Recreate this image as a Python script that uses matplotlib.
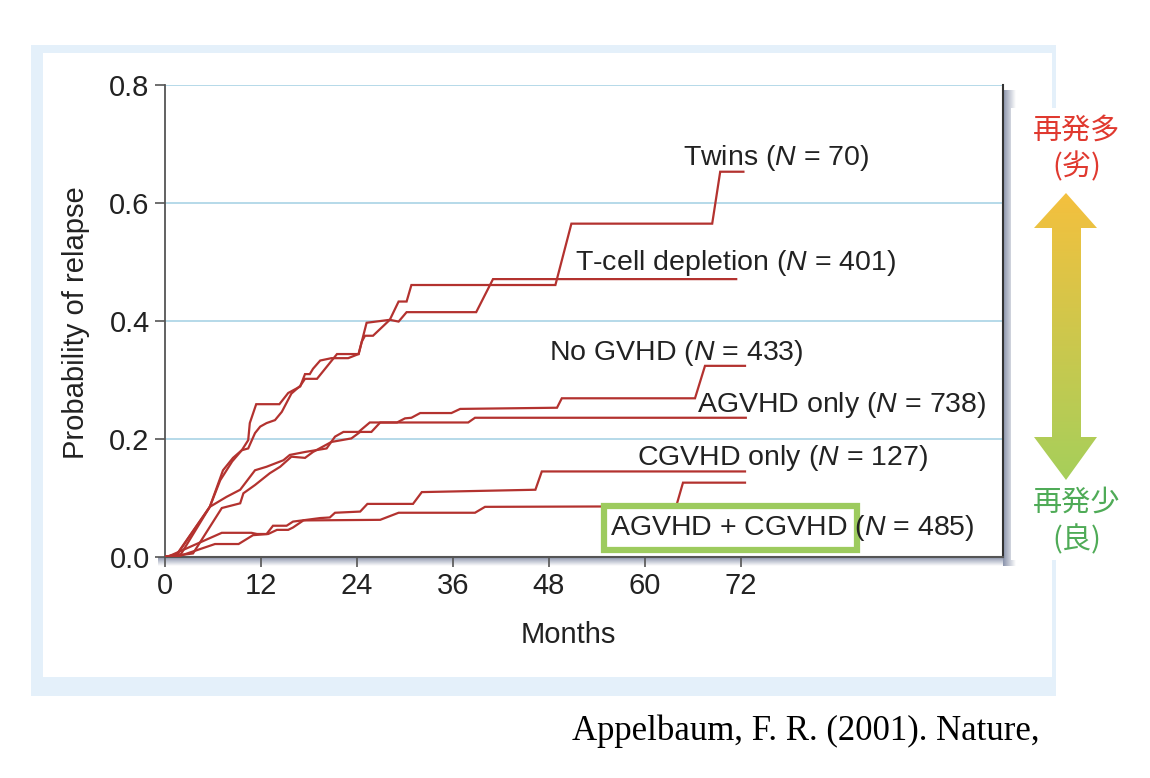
import numpy as np
import matplotlib.pyplot as plt
from matplotlib.patches import Rectangle, Polygon
from matplotlib.colors import LinearSegmentedColormap

plt.rcParams['font.family'] = ['Liberation Sans', 'DejaVu Sans']
plt.rcParams['mathtext.fontset'] = 'custom'
plt.rcParams['mathtext.it'] = 'Liberation Sans:italic'
plt.rcParams['mathtext.rm'] = 'Liberation Sans'

# curves (months, probability of relapse)
twins_m = [0, 1.5, 5.6, 7.25, 8.5, 9.6, 10.4, 10.6, 11.4, 14.3, 15.4, 16.9, 17.5, 18.1, 18.5, 19.4,
           20.8, 22.9, 24.2, 25.2, 28.1, 29.2, 30.2, 30.8, 48.8, 50.8, 68.4, 69.4, 72.3]
twins_p = [0, 0.005, 0.085, 0.147, 0.168, 0.181, 0.198, 0.227, 0.259, 0.259, 0.278, 0.289, 0.310, 0.310,
           0.319, 0.333, 0.337, 0.337, 0.344, 0.397, 0.402, 0.433, 0.433, 0.461, 0.461, 0.565, 0.565,
           0.653, 0.653]

tcell_m = [0, 2.0, 5.6, 6.9, 8.4, 9.6, 10.4, 11.25, 11.9, 12.7, 13.75, 14.6, 15.8, 16.9, 17.5, 19.0,
           21.5, 24.2, 24.6, 25.0, 26.0, 28.1, 29.2, 30.2, 38.9, 41.0, 71.4]
tcell_p = [0, 0.005, 0.085, 0.13, 0.162, 0.181, 0.184, 0.21, 0.221, 0.227, 0.232, 0.246, 0.277, 0.29,
           0.302, 0.302, 0.344, 0.344, 0.365, 0.375, 0.375, 0.402, 0.399, 0.415, 0.415, 0.471, 0.471]

nogvhd_m = [0, 1.5, 5.6, 7.7, 9.4, 11.25, 12.7, 14.8, 15.6, 17.5, 20.2, 21.25, 22.3, 24.2, 25.6, 29.0,
            30.0, 30.8, 31.9, 35.8, 36.9, 49.0, 49.6, 66.25, 67.5, 72.5]
nogvhd_p = [0, 0.004, 0.085, 0.102, 0.114, 0.147, 0.153, 0.164, 0.173, 0.178, 0.184, 0.204, 0.212, 0.212,
            0.228, 0.228, 0.235, 0.236, 0.244, 0.244, 0.251, 0.253, 0.269, 0.269, 0.324, 0.324]

agvhd_m = [0, 3.5, 7.1, 9.4, 9.8, 11.25, 13.1, 14.4, 15.8, 17.5, 18.5, 20.8, 23.3, 24.4, 25.8, 26.9,
           37.9, 38.75, 72.6]
agvhd_p = [0, 0.006, 0.083, 0.091, 0.108, 0.122, 0.142, 0.153, 0.170, 0.168, 0.178, 0.195, 0.201, 0.212,
           0.212, 0.228, 0.228, 0.236, 0.236]

cgvhd_m = [0, 0.6, 7.1, 10.8, 11.5, 12.7, 13.5, 15.2, 16.0, 19.4, 20.6, 21.25, 24.4, 25.3, 31.0, 32.1,
           46.3, 47.1, 72.5]
cgvhd_p = [0, 0.002, 0.041, 0.041, 0.039, 0.039, 0.053, 0.053, 0.060, 0.066, 0.067, 0.075, 0.077, 0.090,
           0.090, 0.110, 0.114, 0.145, 0.145]

both_m = [0, 1.9, 6.25, 9.2, 11.0, 12.9, 14.0, 15.4, 16.0, 17.3, 26.9, 29.2, 38.75, 40.0, 63.9, 64.75, 72.5]
both_p = [0, 0.002, 0.022, 0.022, 0.037, 0.039, 0.046, 0.046, 0.050, 0.062, 0.063, 0.075, 0.075, 0.085,
          0.086, 0.126, 0.126]

labels = [r'Twins ($N$ = 70)', r'T-cell depletion ($N$ = 401)', r'No GVHD ($N$ = 433)',
          r'AGVHD only ($N$ = 738)', r'CGVHD only ($N$ = 127)', r'AGVHD + CGVHD ($N$ = 485)']
label_x = [64.75, 51.25, 48.0, 66.5, 59.0, 55.6]
label_y = [0.664, 0.486, 0.334, 0.246, 0.156, 0.037]

x_ticks = [0, 12, 24, 36, 48, 60, 72]
y_ticks = [0.0, 0.2, 0.4, 0.6, 0.8]

line_col = '#b3322f'

fig = plt.figure(figsize=(11.5, 7.78), dpi=100)

# background layer in pixel coordinates (frame, arrow, notes)
bg = fig.add_axes([0, 0, 1, 1], zorder=0)
bg.add_patch(Rectangle((31, 45), 1025, 651, fc='#e4f0fa', ec='none', zorder=1))
bg.add_patch(Rectangle((43, 53), 1009, 624, fc='white', ec='none', zorder=1.2))

shade = LinearSegmentedColormap.from_list('shade', ['#8a93ab', '#ffffff'])
g = np.linspace(0, 1, 64)
bg.imshow(g.reshape(-1, 1), cmap=shade, extent=[158, 1012, 566, 557], origin='upper',
          aspect='auto', zorder=2)
bg.imshow(g.reshape(1, -1), cmap=shade, extent=[1003, 1016, 566, 90], origin='upper',
          aspect='auto', zorder=2)

bg.add_patch(Rectangle((1011, 108), 95, 452, fc='white', ec='none', zorder=2.5))

arrow_pts = [(1066, 193), (1097, 228), (1081, 228), (1081, 437), (1097, 437), (1066, 480),
             (1034, 437), (1052, 437), (1052, 228), (1034, 228)]
arrow = Polygon(arrow_pts, closed=True, fc='none', ec='none', zorder=2.6)
bg.add_patch(arrow)
arrow_cmap = LinearSegmentedColormap.from_list('arr', ['#f4c03e', '#a6cf5b'])
im = bg.imshow(np.linspace(0, 1, 256).reshape(-1, 1), cmap=arrow_cmap,
               extent=[1034, 1097, 480, 193], origin='upper', aspect='auto', zorder=3)
im.set_clip_path(arrow)

jp = ['Noto Sans CJK JP', 'DejaVu Sans']
bg.text(1077, 131, '再発多', color='#e0392f', fontsize=21, ha='center', va='center', family=jp, zorder=4)
bg.text(1077, 167, '(劣)', color='#e0392f', fontsize=21, ha='center', va='center', family=jp, zorder=4)
bg.text(1077, 503, '再発少', color='#4fab57', fontsize=21, ha='center', va='center', family=jp, zorder=4)
bg.text(1077, 540, '(良)', color='#4fab57', fontsize=21, ha='center', va='center', family=jp, zorder=4)

bg.text(572, 740, 'Appelbaum, F. R. (2001). Nature,', family='Liberation Serif', fontsize=25,
        ha='left', va='baseline', color='black', zorder=4)

bg.set_xlim(0, 1150)
bg.set_ylim(778, 0)
bg.axis('off')

# main plot
ax = fig.add_axes([165 / 1150, (778 - 557) / 778, (1003 - 165) / 1150, (557 - 85) / 778], zorder=2)
ax.set_facecolor('white')

for m, p in [(twins_m, twins_p), (tcell_m, tcell_p), (nogvhd_m, nogvhd_p),
             (agvhd_m, agvhd_p), (cgvhd_m, cgvhd_p), (both_m, both_p)]:
    ax.plot(m, p, color=line_col, lw=1.6, zorder=3, solid_joinstyle='miter')

# green highlight box
ax.add_patch(Rectangle((54.9, 0.0119), 31.6, 0.0745, fc='white', ec='#9dcb5e', lw=4.5, zorder=4))

for t, x, y in zip(labels, label_x, label_y):
    ax.text(x, y, t, fontsize=20.5, color='#222222', ha='left', va='baseline', zorder=5)

ax.set_xlim(0, 104.75)
ax.set_ylim(0, 0.8)
ax.set_xticks(x_ticks)
ax.set_yticks(y_ticks)
ax.set_yticklabels([f'{v:.1f}' for v in y_ticks])
ax.yaxis.grid(True, color='#a9d3e5', lw=1.2, zorder=1)
ax.set_axisbelow(True)
ax.tick_params(direction='out', length=7, width=1.2, color='#555555', labelsize=21, pad=4,
               labelcolor='#222222')

ax.spines['top'].set_visible(False)
ax.spines['left'].set_color('#555555')
ax.spines['left'].set_linewidth(1.3)
ax.spines['bottom'].set_color('#555555')
ax.spines['bottom'].set_linewidth(1.5)
ax.spines['right'].set_color('#333333')
ax.spines['right'].set_linewidth(1.5)

ax.set_xlabel('Months', fontsize=21, color='#222222')
ax.xaxis.set_label_coords(0.481, -0.135)
ax.set_ylabel('Probability of relapse', fontsize=21, color='#222222')
ax.yaxis.set_label_coords(-0.0895, 0.496)

fig.savefig('out.png', dpi=100)
